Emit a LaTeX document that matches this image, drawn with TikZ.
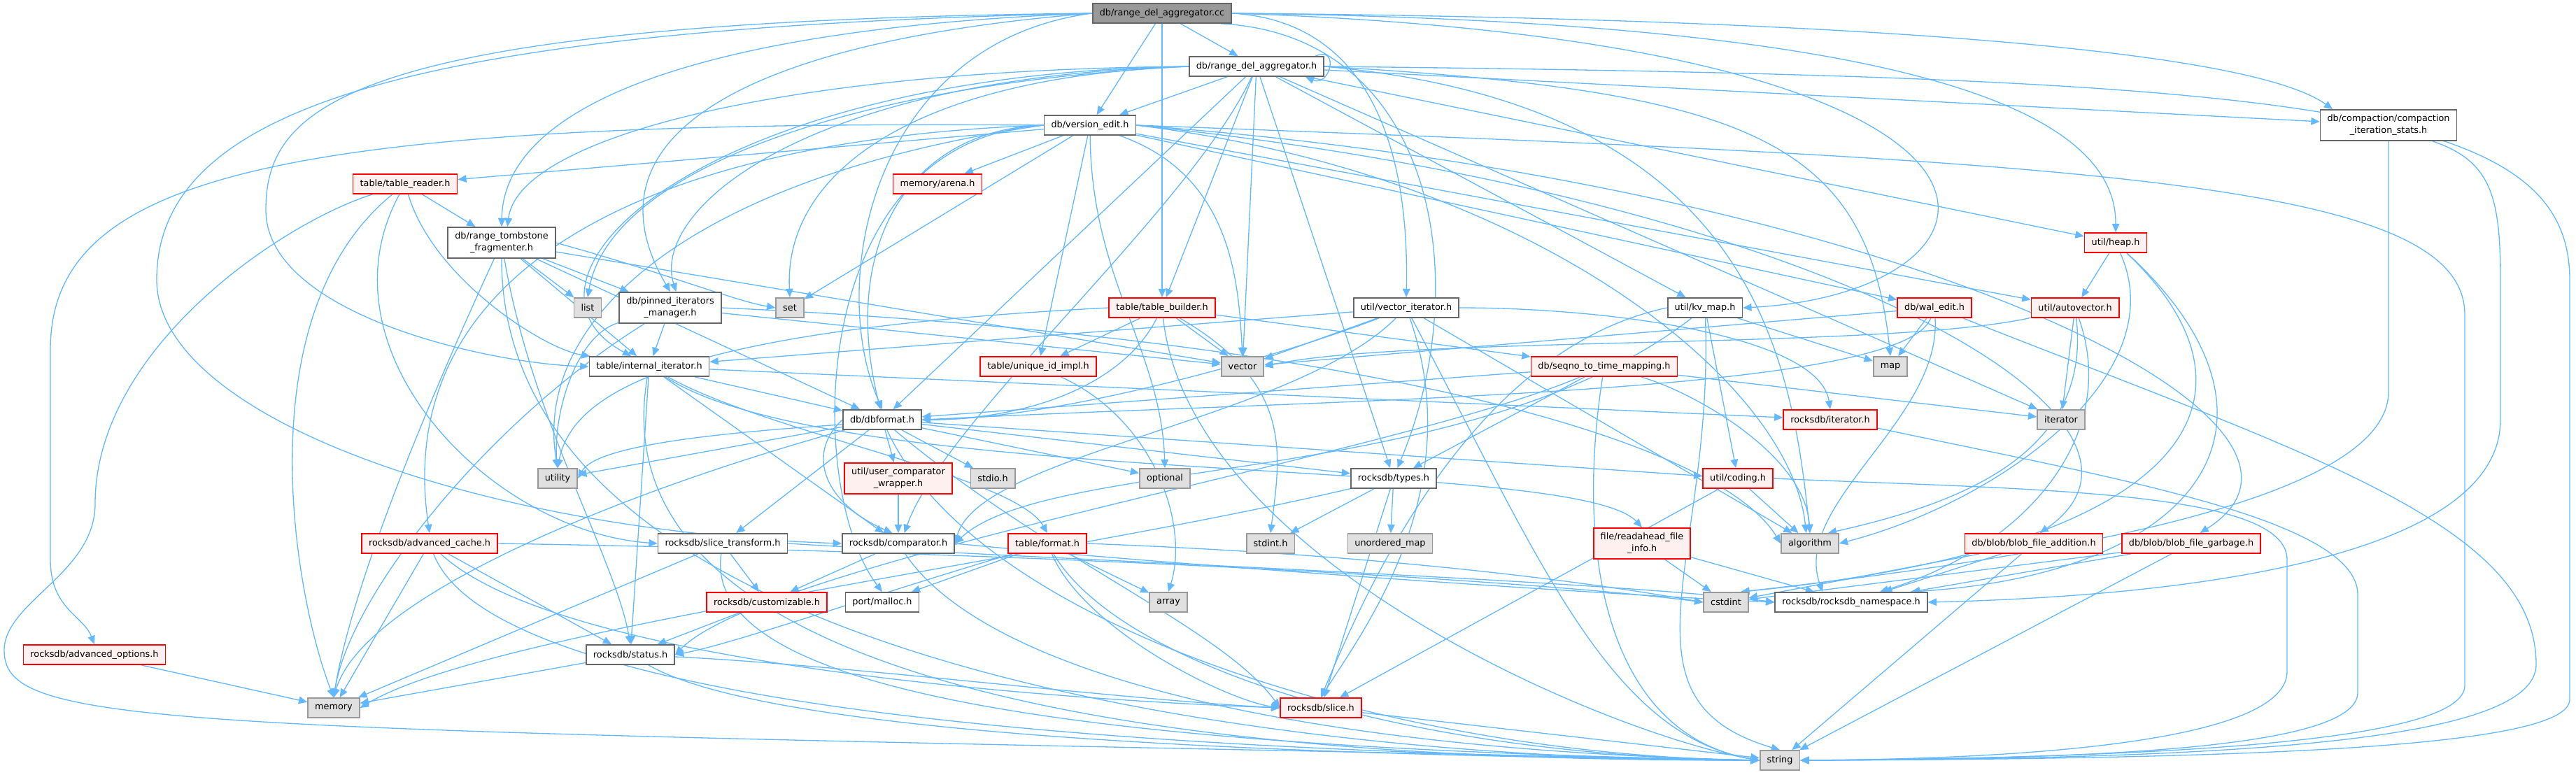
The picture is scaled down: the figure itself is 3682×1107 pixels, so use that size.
\documentclass[tikz,border=0pt]{standalone}
\usepackage{fontspec}
\setmainfont{DejaVu Sans}
\usepackage{tikz}
\usetikzlibrary{arrows.meta, backgrounds}

\definecolor{EdgeBlue}{RGB}{99,184,255}
\definecolor{BoxLine}{RGB}{102,102,102}
\definecolor{SysLine}{RGB}{153,153,153}
\definecolor{SysFill}{RGB}{224,224,224}
\definecolor{TruncLine}{RGB}{255,0,0}
\definecolor{TruncFill}{RGB}{255,240,240}
\definecolor{MainFill}{RGB}{153,153,153}

\tikzset{
  hdr/.style={draw=BoxLine, fill=white, line width=1pt,
    minimum height=0.56cm, inner xsep=0.2cm, inner ysep=4.1pt,
    align=center, font=\fontsize{7.3}{9.6}\selectfont},
  syshdr/.style={hdr, draw=SysLine, fill=SysFill},
  trunchdr/.style={hdr, draw=TruncLine, fill=TruncFill},
  mainhdr/.style={hdr, fill=MainFill},
  dep/.style={EdgeBlue, line width=0.75pt,
    -{Triangle[length=7pt, width=6pt]}}
}

\begin{document}
\begin{tikzpicture}[x=0.02cm, y=0.02cm]

  \useasboundingbox (0,0) rectangle (3682,-1107);

  % Top rows
  \node[mainhdr] (cc) at (1661,-19) {db/range\_del\_aggregator.cc};
  \node[hdr] (h) at (1796,-95) {db/range\_del\_aggregator.h};
  \node[hdr] (vedit) at (1558,-179) {db/version\_edit.h};
  \node[hdr] (compact) at (3414,-179) {db/compaction/compaction\\\_iteration\_stats.h};
  \node[trunchdr] (treader) at (579,-263) {table/table\_reader.h};
  \node[trunchdr] (arena) at (1340,-263) {memory/arena.h};
  \node[trunchdr] (heap) at (3024,-347) {util/heap.h};
  \node[hdr] (frag) at (717,-347) {db/range\_tombstone\\\_fragmenter.h};

  % Middle rows
  \node[syshdr] (list) at (840,-440) {list};
  \node[hdr] (pinned) at (958,-440) {db/pinned\_iterators\\\_manager.h};
  \node[syshdr] (set) at (1129,-440) {set};
  \node[trunchdr] (tbuilder) at (1661,-440) {table/table\_builder.h};
  \node[hdr] (vecit) at (2010,-440) {util/vector\_iterator.h};
  \node[hdr] (kvmap) at (2437,-440) {util/kv\_map.h};
  \node[trunchdr] (waledit) at (2765,-440) {db/wal\_edit.h};
  \node[trunchdr] (autovec) at (2966,-440) {util/autovector.h};
  \node[hdr] (initer) at (928,-524) {table/internal\_iterator.h};
  \node[trunchdr] (uid) at (1484,-524) {table/unique\_id\_impl.h};
  \node[syshdr] (vector) at (1776,-524) {vector};
  \node[trunchdr] (seqno) at (2293,-524) {db/seqno\_to\_time\_mapping.h};
  \node[syshdr] (map) at (2702,-524) {map};
  \node[hdr] (dbformat) at (1261,-600) {db/dbformat.h};
  \node[trunchdr] (rit) at (2616,-600) {rocksdb/iterator.h};
  \node[syshdr] (iterator) at (2946,-600) {iterator};
  \node[syshdr] (utility) at (797,-684) {utility};
  \node[trunchdr] (ucw) at (1284,-684) {util/user\_comparator\\\_wrapper.h};
  \node[syshdr] (stdio) at (1419,-684) {stdio.h};
  \node[syshdr] (optional) at (1665,-684) {optional};
  \node[hdr] (types) at (1992,-684) {rocksdb/types.h};
  \node[trunchdr] (coding) at (2484,-684) {util/coding.h};

  % Lower rows
  \node[trunchdr] (acache) at (614,-777) {rocksdb/advanced\_cache.h};
  \node[hdr] (stransform) at (1033,-777) {rocksdb/slice\_transform.h};
  \node[hdr] (comparator) at (1284,-777) {rocksdb/comparator.h};
  \node[trunchdr] (format) at (1497,-777) {table/format.h};
  \node[syshdr] (stdint) at (1816,-777) {stdint.h};
  \node[syshdr] (umap) at (1987,-777) {unordered\_map};
  \node[trunchdr] (rafi) at (2347,-777) {file/readahead\_file\\\_info.h};
  \node[syshdr] (algorithm) at (2587,-777) {algorithm};
  \node[trunchdr] (bfadd) at (2907,-777) {db/blob/blob\_file\_addition.h};
  \node[trunchdr] (bfgarb) at (3132,-777) {db/blob/blob\_file\_garbage.h};
  \node[trunchdr] (customizable) at (1096,-861) {rocksdb/customizable.h};
  \node[hdr] (malloc) at (1261,-861) {port/malloc.h};
  \node[syshdr] (array) at (1670,-861) {array};
  \node[syshdr] (cstdint) at (2467,-861) {cstdint};
  \node[hdr] (ns) at (2646,-861) {rocksdb/rocksdb\_namespace.h};
  \node[trunchdr] (aoptions) at (135,-936) {rocksdb/advanced\_options.h};
  \node[hdr] (status) at (901,-936) {rocksdb/status.h};
  \node[syshdr] (memory) at (477,-1012) {memory};
  \node[trunchdr] (slice) at (1888,-1012) {rocksdb/slice.h};
  \node[syshdr] (string) at (2544,-1087) {string};

  \begin{scope}[on background layer]

  % range_del_aggregator.cc
  \draw[dep] (cc) -- (h);
  \draw[dep] (cc) -- (vedit);
  \draw[dep] (cc) -- (tbuilder);
  \draw[dep] (cc.east) .. controls (2500,-25) and (3200,-60) .. (compact.164);
  \draw[dep] (cc.east) .. controls (2700,-30) and (3025,-150) .. (heap.north);
  \draw[dep] (cc.east) .. controls (3000,-60) and (2900,-420) .. (kvmap.east);
  \draw[dep] (cc.east) .. controls (1950,-30) and (2015,-200) .. (vecit.north);
  \draw[dep] (cc.-10) .. controls (2050,-50) and (2110,-400) .. (types.70);
  \draw[dep] (cc.west) .. controls (1000,-40) and (720,-150) .. (frag.north);
  \draw[dep] (cc.west) .. controls (1050,-60) and (830,-200) .. (pinned.north);
  \draw[dep] (cc.west) .. controls (1250,-60) and (1180,-400) .. (dbformat.north);
  \draw[dep] (cc.west) .. controls (500,-30) and (380,-150) .. (380,-300)
        .. controls (380,-450) and (700,-520) .. (initer.west);
  \draw[dep] (cc.west) .. controls (600,-40) and (224,-150) .. (224,-400)
        .. controls (224,-600) and (700,-760) .. (comparator.west);

  % range_del_aggregator.h
  \draw[dep] (h.10) .. controls +(35,15) and +(35,-15) .. (h.-12);
  \draw[dep] (h) -- (compact);
  \draw[dep] (h) -- (heap);
  \draw[dep] (h) -- (kvmap);
  \draw[dep] (h) -- (iterator);
  \draw[dep] (h) -- (vedit);
  \draw[dep] (h) -- (tbuilder);
  \draw[dep] (h) -- (vector);
  \draw[dep] (h) -- (types);
  \draw[dep] (h) -- (dbformat);
  \draw[dep] (h.east) .. controls (2500,-130) and (2670,-200) .. (map.north);
  \draw[dep] (h.east) .. controls (2500,-150) and (2560,-500) .. (algorithm.north);
  \draw[dep] (h.east) .. controls (3300,-110) and (3673,-150) .. (3673,-400)
        -- (3673,-1000) .. controls (3673,-1070) and (3200,-1085) .. (string.east);
  \draw[dep] (h.west) .. controls (1200,-120) and (870,-250) .. (list.north);
  \draw[dep] (h.west) .. controls (1300,-110) and (1120,-250) .. (set.north);
  \draw[dep] (h.west) .. controls (1100,-100) and (740,-200) .. (frag.70);
  \draw[dep] (h.west) .. controls (1150,-110) and (930,-300) .. (pinned.70);
  \draw[dep] (h.west) .. controls (1000,-105) and (700,-400) .. (initer.150);
  \draw[dep] (h) .. controls (1700,-300) and (1350,-600) .. (comparator.60);

  % version_edit.h
  \draw[dep] (vedit) -- (set);
  \draw[dep] (vedit) -- (arena);
  \draw[dep] (vedit) -- (treader);
  \draw[dep] (vedit) -- (uid);
  \draw[dep] (vedit) -- (waledit);
  \draw[dep] (vedit) -- (autovec);
  \draw[dep] (vedit) .. controls (1760,-250) and (1770,-400) .. (vector.north);
  \draw[dep] (vedit) .. controls (1560,-400) and (1660,-500) .. (optional.north);
  \draw[dep] (vedit.west) .. controls (1300,-185) and (1200,-350) .. (dbformat.100);
  \draw[dep] (vedit.west) .. controls (1150,-200) and (1150,-700) .. (malloc.north);
  \draw[dep] (vedit.west) .. controls (900,-200) and (560,-400) .. (acache.north);
  \draw[dep] (vedit.west) .. controls (1000,-250) and (760,-450) .. (utility.north);
  \draw[dep] (vedit.west) .. controls (400,-170) and (72,-250) .. (72,-500)
        -- (72,-800) .. controls (72,-870) and (119,-880) .. (aoptions.north);
  \draw[dep] (vedit.east) .. controls (3000,-230) and (3523,-260) .. (3523,-450)
        -- (3523,-980) .. controls (3523,-1060) and (3100,-1083) .. (string.east);
  \draw[dep] (vedit.east) .. controls (2200,-250) and (2560,-550) .. (algorithm.110);
  \draw[dep] (vedit.east) .. controls (2600,-280) and (3150,-600) .. (bfadd.60);
  \draw[dep] (vedit.east) .. controls (2700,-260) and (3400,-600) .. (bfgarb.50);

  % compaction_iteration_stats.h
  \draw[dep] (compact.south) -- (3414,-560)
        .. controls (3414,-720) and (2900,-800) .. (cstdint.35);
  \draw[dep] (compact.-20) .. controls (3560,-230) and (3574,-280) .. (3574,-400)
        -- (3574,-600) .. controls (3574,-780) and (3200,-850) .. (ns.east);

  % table_reader.h
  \draw[dep] (treader) -- (frag);
  \draw[dep] (treader) .. controls (350,-450) and (420,-850) .. (memory.north);
  \draw[dep] (treader) .. controls (450,-500) and (700,-760) .. (stransform.west);
  \draw[dep] (treader) .. controls (620,-400) and (780,-500) .. (initer.170);
  \draw[dep] (treader) .. controls (400,-320) and (136,-500) .. (136,-720)
        .. controls (136,-820) and (6,-860) .. (6,-930)
        .. controls (6,-1045) and (250,-1040) .. (string.west);

  % heap.h
  \draw[dep] (heap) -- (autovec);
  \draw[dep] (heap) .. controls (3110,-540) and (2850,-720) .. (algorithm.east);
  \draw[dep] (heap) .. controls (3250,-560) and (3150,-780) .. (cstdint.35);
  \draw[dep] (heap) .. controls (3300,-600) and (3150,-820) .. (ns.10);

  % range_tombstone_fragmenter.h
  \draw[dep] (frag) -- (list);
  \draw[dep] (frag) -- (pinned);
  \draw[dep] (frag) -- (initer);
  \draw[dep] (frag) -- (dbformat);
  \draw[dep] (frag) -- (vector);
  \draw[dep] (frag.east) .. controls (950,-390) and (1050,-430) .. (set.west);
  \draw[dep] (frag) .. controls (600,-600) and (500,-850) .. (memory.north);
  \draw[dep] (frag) .. controls (760,-600) and (880,-800) .. (status.north);
  \draw[dep] (frag) to[out=-90, in=180, looseness=0.8] (string.west);

  % pinned_iterators_manager.h
  \draw[dep] (pinned) -- (initer);
  \draw[dep] (pinned) -- (vector);
  \draw[dep] (pinned) .. controls (820,-480) and (790,-600) .. (utility.north);
  \draw[dep] (pinned) .. controls (700,-600) and (500,-850) .. (memory.north);
  \draw[dep] (pinned.east) .. controls (1900,-480) and (2450,-620) .. (algorithm.west);

  % table_builder.h
  \draw[dep] (tbuilder) -- (vector);
  \draw[dep] (tbuilder) -- (uid);
  \draw[dep] (tbuilder) -- (seqno);
  \draw[dep] (tbuilder) .. controls (1600,-560) and (1450,-600) .. (dbformat.east);
  \draw[dep] (tbuilder.west) .. controls (1000,-470) and (820,-550) .. (utility.north);
  \draw[dep] (tbuilder) .. controls (1850,-550) and (1830,-650) .. (stdint.north);
  \draw[dep] (tbuilder) .. controls (1700,-800) and (2300,-1050) .. (string.west);

  % vector_iterator.h
  \draw[dep] (vecit) -- (vector);
  \draw[dep] (vecit) -- (initer);
  \draw[dep] (vecit) -- (algorithm);
  \draw[dep] (vecit) .. controls (1800,-520) and (1500,-600) .. (dbformat.east);
  \draw[dep] (vecit.east) .. controls (2300,-440) and (2600,-480) .. (rit.north);
  \draw[dep] (vecit) .. controls (1850,-600) and (1400,-650) .. (comparator.east);
  \draw[dep] (vecit) .. controls (2100,-700) and (1950,-900) .. (slice.north);
  \draw[dep] (vecit) .. controls (2200,-800) and (2300,-1050) .. (string.west);

  % kv_map.h
  \draw[dep] (kvmap) -- (map);
  \draw[dep] (kvmap) -- (coding);
  \draw[dep] (kvmap) .. controls (2100,-700) and (1500,-650) .. (comparator.east);
  \draw[dep] (kvmap.west) .. controls (2100,-500) and (1950,-850) .. (slice.north);
  \draw[dep] (kvmap) .. controls (2450,-800) and (2300,-1000) .. (string.north);

  % wal_edit.h
  \draw[dep] (waledit) -- (map);
  \draw[dep] (waledit) -- (vector);
  \draw[dep] (waledit) .. controls (2700,-620) and (900,-550) .. (utility.east);
  \draw[dep] (waledit) .. controls (2775,-600) and (2560,-720) .. (ns.160);
  \draw[dep] (waledit.-20) .. controls (3300,-650) and (3625,-750) .. (3625,-950)
        .. controls (3625,-1060) and (3200,-1085) .. (string.east);

  % autovector.h
  \draw[dep] (autovec) -- (iterator);
  \draw[dep] (autovec) .. controls (2700,-500) and (2000,-480) .. (vector.east);
  \draw[dep] (autovec) .. controls (2990,-650) and (2800,-720) .. (algorithm.30);
  \draw[dep] (autovec) .. controls (3030,-620) and (2900,-780) .. (ns.20);

  % internal_iterator.h
  \draw[dep] (initer) -- (dbformat);
  \draw[dep] (initer) -- (comparator);
  \draw[dep] (initer) -- (rit);
  \draw[dep] (initer) -- (status);
  \draw[dep] (initer) .. controls (1100,-620) and (1450,-680) .. (format.north);
  \draw[dep] (initer) .. controls (1200,-700) and (2250,-650) .. (rafi.north);
  \draw[dep] (initer) to[out=-100, in=180, looseness=0.8] (string.west);

  % unique_id_impl.h
  \draw[dep] (uid) .. controls (1650,-600) and (1700,-750) .. (array.north);

  % seqno_to_time_mapping.h
  \draw[dep] (seqno) -- (iterator);
  \draw[dep] (seqno) -- (types);
  \draw[dep] (seqno) -- (dbformat);
  \draw[dep] (seqno) .. controls (2420,-560) and (2580,-650) .. (algorithm.north);
  \draw[dep] (seqno) .. controls (2000,-650) and (1100,-800) .. (status.east);
  \draw[dep] (seqno) .. controls (2250,-800) and (2300,-1050) .. (string.west);

  % dbformat.h
  \draw[dep] (dbformat) -- (ucw);
  \draw[dep] (dbformat) -- (stdio);
  \draw[dep] (dbformat) -- (optional);
  \draw[dep] (dbformat) -- (utility);
  \draw[dep] (dbformat) -- (stransform);
  \draw[dep] (dbformat) -- (types);
  \draw[dep] (dbformat) -- (coding);
  \draw[dep] (dbformat.west) .. controls (1150,-650) and (1180,-720) .. (comparator.120);
  \draw[dep] (dbformat) .. controls (900,-700) and (520,-850) .. (memory.north);
  \draw[dep] (dbformat) .. controls (1500,-800) and (1750,-900) .. (slice.west);
  \draw[dep] (dbformat) .. controls (1400,-900) and (2000,-1080) .. (string.west);

  % rocksdb/iterator.h, user_comparator_wrapper.h
  \draw[dep] (rit.-10) .. controls (3000,-680) and (3370,-740) .. (3370,-850)
        -- (3370,-990) .. controls (3370,-1070) and (3000,-1085) .. (string.east);
  \draw[dep] (ucw) -- (comparator);

  % types.h, coding.h
  \draw[dep] (types) -- (stdint);
  \draw[dep] (types) -- (umap);
  \draw[dep] (types) -- (slice);
  \draw[dep] (types) .. controls (1500,-800) and (700,-900) .. (memory.east);
  \draw[dep] (coding) -- (algorithm);
  \draw[dep] (coding) -- (slice);
  \draw[dep] (coding.east) .. controls (2900,-700) and (3269,-700) .. (3269,-800)
        -- (3269,-960) .. controls (3269,-1060) and (2900,-1085) .. (string.east);

  % advanced_cache.h
  \draw[dep] (acache) -- (memory);
  \draw[dep] (acache) -- (status);
  \draw[dep] (acache.east) .. controls (1500,-790) and (2200,-830) .. (cstdint.west);
  \draw[dep] (acache) .. controls (800,-950) and (1500,-1000) .. (slice.west);
  \draw[dep] (acache) .. controls (700,-1000) and (1500,-1075) .. (string.west);

  % slice_transform.h, comparator.h
  \draw[dep] (stransform) -- (customizable);
  \draw[dep] (stransform) -- (memory);
  \draw[dep] (stransform.east) .. controls (1500,-800) and (2300,-830) .. (ns.west);
  \draw[dep] (stransform) .. controls (1000,-1000) and (1600,-1070) .. (string.west);
  \draw[dep] (comparator) -- (customizable);
  \draw[dep] (comparator.east) .. controls (1700,-810) and (2300,-850) .. (ns.west);
  \draw[dep] (comparator) .. controls (1400,-950) and (1800,-1070) .. (string.west);

  % format.h
  \draw[dep] (format) -- (array);
  \draw[dep] (format) -- (malloc);
  \draw[dep] (format.east) .. controls (1900,-790) and (2200,-820) .. (cstdint.west);
  \draw[dep] (format) .. controls (1550,-900) and (1750,-1000) .. (slice.west);
  \draw[dep] (format) .. controls (1250,-850) and (1050,-920) .. (status.east);
  \draw[dep] (format) .. controls (1600,-950) and (2000,-1080) .. (string.west);

  % readahead_file_info.h, blob files
  \draw[dep] (rafi) -- (cstdint);
  \draw[dep] (rafi) -- (ns);
  \draw[dep] (bfadd) -- (cstdint);
  \draw[dep] (bfadd) -- (ns);
  \draw[dep] (bfadd) -- (string);
  \draw[dep] (bfgarb) -- (cstdint);
  \draw[dep] (bfgarb) -- (ns);
  \draw[dep] (bfgarb) -- (string);

  % bottom rows
  \draw[dep] (customizable) -- (status);
  \draw[dep] (aoptions) -- (memory);
  \draw[dep] (status) -- (memory);
  \draw[dep] (status) .. controls (1200,-950) and (1600,-1000) .. (slice.west);
  \draw[dep] (status) .. controls (1100,-1050) and (1800,-1080) .. (string.west);
  \draw[dep] (slice) -- (string);

  \end{scope}

\end{tikzpicture}
\end{document}
